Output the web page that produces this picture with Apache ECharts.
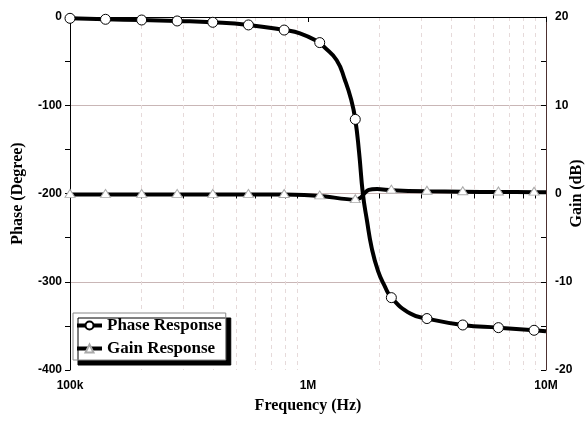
<!DOCTYPE html>
<html>
<head>
<meta charset="utf-8">
<script src="https://cdn.jsdelivr.net/npm/echarts@6/dist/echarts.min.js"></script>
<style>html,body{margin:0;padding:0;background:#fff}#c{width:587px;height:421px}</style>
</head>
<body>
<div id="c"></div>
<script>
// Frequencies (Hz) where symbols are drawn
const markerFreq = [1e5, 1.41e5, 2e5, 2.82e5, 3.98e5, 5.62e5, 7.94e5, 1.12e6, 1.58e6, 2.24e6, 3.16e6, 4.47e6, 6.31e6, 8.91e6];
// Phase curve (degree)
const phaseFreq = [1e5, 1.41e5, 2e5, 2.82e5, 3.98e5, 5.62e5, 7.94e5, 9.25e5, 1.12e6, 1.16e6, 1.32e6, 1.43e6, 1.52e6, 1.58e6, 1.64e6, 1.70e6, 1.77e6, 1.85e6, 1.97e6, 2.11e6, 2.24e6, 2.69e6, 3.16e6, 4.47e6, 6.31e6, 8.91e6, 1e7];
const phaseVals = [-1.5, -2.6, -3.4, -4.5, -6, -9, -14.8, -18.5, -29, -33, -49, -71.6, -94, -116, -154, -200, -231, -261, -288, -306, -318, -336, -341.7, -349, -352, -355, -356];
// Gain curve (dB)
const gainFreq = [1e5, 1.41e5, 2e5, 2.82e5, 3.98e5, 5.62e5, 7.94e5, 1.12e6, 1.58e6, 1.66e6, 1.73e6, 1.80e6, 1.95e6, 2.24e6, 3.16e6, 4.47e6, 6.31e6, 8.91e6, 1e7];
const gainVals = [-0.1, -0.1, -0.1, -0.1, -0.1, -0.1, -0.12, -0.27, -0.7, -0.5, 0.05, 0.4, 0.5, 0.38, 0.25, 0.2, 0.17, 0.15, 0.15];
// Axis ticks
const majorLabels = {1e5: '100k', 1e6: '1M', 1e7: '10M'};
const minorFreq = [2e5, 3e5, 4e5, 5e5, 6e5, 7e5, 8e5, 9e5, 2e6, 3e6, 4e6, 5e6, 6e6, 7e6, 8e6, 9e6];

function isMarker(f) { return markerFreq.some(m => Math.abs(m - f) / m < 1e-6); }
const phaseData = phaseFreq.map((f, i) => isMarker(f) ? [f, phaseVals[i]] : {value: [f, phaseVals[i]], symbol: 'none'});
const gainData = gainFreq.map((f, i) => isMarker(f) ? [f, gainVals[i]] : {value: [f, gainVals[i]], symbol: 'none'});

const sans = 'Liberation Sans, Arial, sans-serif';
const serif = 'Liberation Serif, Times New Roman, serif';

const chart = echarts.init(document.getElementById('c'), null, {renderer: 'canvas'});
chart.setOption({
  animation: false,
  backgroundColor: '#fff',
  grid: {left: 70, right: 41, top: 17, bottom: 51, outerBoundsMode: 'none', containLabel: false},
  legend: {
    orient: 'vertical', left: 73, top: 313,
    padding: [4, 4, 3, 2], itemGap: 6, itemWidth: 25, itemHeight: 10,
    backgroundColor: '#fff', borderColor: '#888', borderWidth: 1,
    shadowColor: '#000', shadowBlur: 0, shadowOffsetX: 5, shadowOffsetY: 5,
    lineStyle: {width: 4, color: '#000'},
    textStyle: {fontFamily: serif, fontWeight: 'bold', fontSize: 17, color: '#000'},
    data: ['Phase Response', 'Gain Response']
  },
  xAxis: [{
    type: 'log', min: 1e5, max: 1e7, logBase: 10,
    name: 'Frequency (Hz)', nameLocation: 'middle', nameGap: 28, nameMoveOverlap: false,
    nameTextStyle: {fontFamily: serif, fontWeight: 'bold', fontSize: 16, color: '#000'},
    axisLine: {lineStyle: {color: '#000', width: 1}},
    axisTick: {show: true, length: 5, lineStyle: {color: '#000'}},
    axisLabel: {fontFamily: sans, fontWeight: 'bold', fontSize: 12, color: '#000', margin: 10,
      formatter: v => majorLabels[v] || ''},
    splitLine: {show: false}
  }, {
    type: 'log', min: 1e5, max: 1e7, logBase: 10, position: 'bottom',
    axisLine: {show: false},
    axisTick: {show: true, length: 5, customValues: minorFreq, lineStyle: {color: '#000'}},
    axisLabel: {show: false, customValues: minorFreq},
    splitLine: {show: true, lineStyle: {color: '#e6dada', type: [4, 4], width: 1}}
  }],
  yAxis: [{
    type: 'value', min: -400, max: 0, interval: 100,
    name: 'Phase (Degree)', nameLocation: 'middle', nameGap: 44, nameRotate: 90, nameMoveOverlap: false,
    nameTextStyle: {fontFamily: serif, fontWeight: 'bold', fontSize: 16, color: '#000'},
    axisLine: {show: true, lineStyle: {color: '#000'}},
    axisTick: {show: true, length: 5, lineStyle: {color: '#000'}},
    minorTick: {show: true, splitNumber: 2, length: 5, lineStyle: {color: '#000'}},
    axisLabel: {fontFamily: sans, fontWeight: 'bold', fontSize: 12, color: '#000', margin: 8},
    splitLine: {show: true, showMinLine: false, showMaxLine: false, lineStyle: {color: '#c9b6b6', width: 1}}
  }, {
    type: 'value', min: -20, max: 20, interval: 10, position: 'right',
    name: 'Gain (dB)', nameLocation: 'middle', nameGap: 23, nameRotate: 90, nameMoveOverlap: false,
    nameTextStyle: {fontFamily: serif, fontWeight: 'bold', fontSize: 16, color: '#000'},
    axisLine: {show: true, lineStyle: {color: '#4d3030'}},
    axisTick: {show: true, inside: true, length: 5, lineStyle: {color: '#000'}},
    minorTick: {show: true, splitNumber: 2, length: 5, lineStyle: {color: '#000'}},
    axisLabel: {fontFamily: sans, fontWeight: 'bold', fontSize: 12, color: '#000', margin: 9},
    splitLine: {show: false}
  }],
  series: [{
    name: 'Gain Response', type: 'line', xAxisIndex: 0, yAxisIndex: 1,
    data: gainData, smooth: 0.3, showAllSymbol: true,
    symbol: 'triangle', symbolSize: [10, 8], symbolOffset: [0, -1],
    lineStyle: {color: '#000', width: 4},
    itemStyle: {color: '#fff', borderColor: '#aaa', borderWidth: 1},
    z: 2
  }, {
    name: 'Phase Response', type: 'line', xAxisIndex: 0, yAxisIndex: 0,
    data: phaseData, smooth: 0.5, showAllSymbol: true,
    symbol: 'circle', symbolSize: 10,
    lineStyle: {color: '#000', width: 4},
    itemStyle: {color: '#fff', borderColor: '#000', borderWidth: 1},
    z: 3
  }]
});
</script>
</body>
</html>
